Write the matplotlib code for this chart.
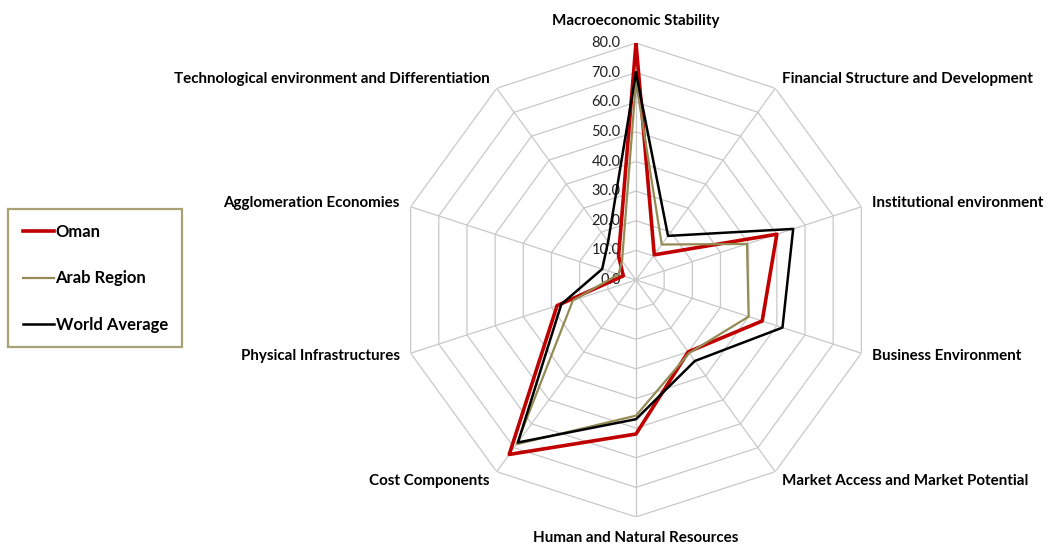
import numpy as np
import matplotlib.pyplot as plt
from matplotlib.lines import Line2D

plt.rcParams['font.family'] = ['Lato', 'DejaVu Sans']

categories = [
    'Macroeconomic Stability',
    'Financial Structure and Development',
    'Institutional environment',
    'Business Environment',
    'Market Access and Market Potential',
    'Human and Natural Resources',
    'Cost Components',
    'Physical Infrastructures',
    'Agglomeration Economies',
    'Technological environment and Differentiation',
]
oman = [80.0, 10.5, 50.0, 44.8, 30.0, 52.0, 72.8, 28.0, 4.5, 10.0]
arab_region = [67.0, 14.8, 39.4, 40.0, 30.5, 45.8, 68.5, 22.4, 6.2, 8.0]
world_average = [70.0, 18.4, 55.8, 52.0, 33.8, 47.0, 67.8, 26.5, 12.0, 16.0]
levels = [0, 10, 20, 30, 40, 50, 60, 70, 80]

series = [
    ('Oman', oman, '#C00000', 2.6),
    ('Arab Region', arab_region, '#948A54', 1.6),
    ('World Average', world_average, '#000000', 1.8),
]

n = len(categories)
theta = np.arange(n) * 2 * np.pi / n
theta_closed = np.append(theta, theta[0])

fig = plt.figure(figsize=(10.5, 5.46), dpi=100)
ax = fig.add_axes([0.3800, 0.0532, 0.4514, 0.8680], projection='polar')
ax.set_theta_zero_location('N')
ax.set_theta_direction(-1)
ax.set_ylim(0, 80)
ax.grid(False)
ax.spines['polar'].set_visible(False)
ax.set_xticks([])
ax.set_yticks([])
ax.patch.set_alpha(0)

grid_color = '#C8C8C8'
# straight-edged rings and spokes
for lv in levels[1:]:
    ax.plot(theta_closed, [lv] * (n + 1), color=grid_color, lw=0.9, zorder=1)
for t in theta:
    ax.plot([t, t], [0, 80], color=grid_color, lw=0.9, zorder=1)

for lv in levels:
    ax.annotate(f'{lv:.1f}', xy=(0, lv), xytext=(-11, 0), textcoords='offset points',
                ha='right', va='center', fontsize=10.5, color='#202020')

for name, vals, col, lw in series:
    v = np.append(vals, vals[0])
    ax.plot(theta_closed, v, color=col, lw=lw, label=name, zorder=3)

# category labels around the outer ring (offsets in points)
label_pos = [
    (0, 16, 'center', 'center'),
    (5, 7, 'left', 'center'),
    (8, 3, 'left', 'center'),
    (8, -2, 'left', 'center'),
    (5, -7, 'left', 'center'),
    (0, -15, 'center', 'center'),
    (-5, -7, 'right', 'center'),
    (-8, -2, 'right', 'center'),
    (-8, 3, 'right', 'center'),
    (-5, 7, 'right', 'center'),
]
for t, lab, (dx, dy, ha, va) in zip(theta, categories, label_pos):
    ax.annotate(lab, xy=(t, 80), xytext=(dx, dy), textcoords='offset points',
                ha=ha, va=va, fontsize=10.9, fontweight='bold', annotation_clip=False)

handles = [Line2D([], [], color=c, lw=lw) for _, _, c, lw in series]
leg = fig.legend(handles, [s[0] for s in series], loc='center left',
                 bbox_to_anchor=(0.008, 0.49), frameon=True, fancybox=False,
                 prop={'weight': 'bold', 'size': 12}, handlelength=1.9,
                 handletextpad=0.08, labelspacing=1.85, borderpad=0.85,
                 borderaxespad=0)
leg.get_frame().set_edgecolor('#948A54')
leg.get_frame().set_linewidth(1.6)

fig.savefig('out.png', dpi=100)
